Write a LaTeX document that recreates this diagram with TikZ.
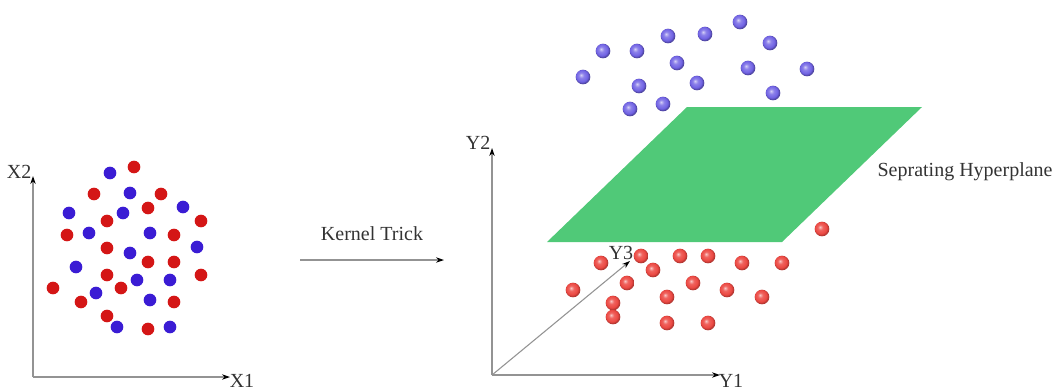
\documentclass[tikz,border=0pt]{standalone}
\usepackage{fontspec}
\setmainfont{Liberation Serif}
\usetikzlibrary{arrows.meta}
\definecolor{dred}{RGB}{212,22,22}
\definecolor{dblue}{RGB}{58,28,212}
\definecolor{bblue}{RGB}{112,98,228}
\definecolor{bred}{RGB}{236,72,66}
\definecolor{plane}{RGB}{80,201,120}
\pgfdeclareradialshading{bbsh}{\pgfqpoint{-7bp}{7bp}}{color(0bp)=(bblue!30!white); color(9bp)=(bblue!80!white); color(20bp)=(bblue); color(25bp)=(bblue!70!black); color(50bp)=(bblue!70!black)}
\pgfdeclareradialshading{rbsh}{\pgfqpoint{-7bp}{7bp}}{color(0bp)=(bred!30!white); color(9bp)=(bred!85!white); color(20bp)=(bred); color(25bp)=(bred!75!black); color(50bp)=(bred!75!black)}
\tikzset{
  axis/.style={draw=gray!85, line width=0.8pt, -{Stealth[black,length=6pt,width=4pt]}},
  flatdot/.style={circle, minimum size=9.5pt, inner sep=0pt},
  reddot/.style={flatdot, fill=dred},
  bluedot/.style={flatdot, fill=dblue},
  ball/.style={circle, minimum size=11pt, inner sep=0pt},
  blueball/.style={ball, shading=bbsh},
  redball/.style={ball, shading=rbsh},
  lbl/.style={font=\fontsize{15}{17}\selectfont, text=black!80, inner sep=1pt},
}
\begin{document}
\begin{tikzpicture}[x=0.75pt, y=-0.75pt]
\useasboundingbox (0,0) rectangle (1056,390);
% left axes
\coordinate (o1) at (33,377);
\coordinate (x2end) at (33,176);
\coordinate (x1end) at (230,377);
\draw[axis] (o1) -- (x2end);
\draw[axis] (o1) -- (x1end);
\node[lbl, anchor=east] (x2lbl) at (33,172) {X2};
\node[lbl] (x1lbl) at (242,381) {X1};
% left dots
\foreach \x/\y [count=\i] in {110/173,130/193,69/213,123/213,183/207,89/233,150/233,197/247,130/253,76/267,137/280,170/280,96/293,150/300,117/327,170/327}
  \node[bluedot] (lb\i) at (\x,\y) {};
\foreach \x/\y [count=\i] in {134/167,94/194,161/194,148/208,107/221,201/221,67/235,174/235,107/248,148/262,174/262,107/275,201/275,53/288,121/288,81/302,174/302,107/316,148/329}
  \node[reddot] (lr\i) at (\x,\y) {};
% kernel trick
\coordinate (ka) at (300,260);
\coordinate (kb) at (444,260);
\draw[axis] (ka) -- (kb);
\node[lbl] (kt) at (372,234) {Kernel Trick};
% plane
\fill[plane] (687,107) coordinate (p1) -- (922,107) coordinate (p2) -- (782,242) coordinate (p3) -- (547,242) coordinate (p4) -- cycle;
\node[lbl, anchor=west] (sh) at (876,172) {Seprating Hyperplane};
% right axes
\coordinate (o2) at (492,375);
\coordinate (y2end) at (492,148);
\coordinate (y1end) at (720,375);
\coordinate (y3end) at (630,261);
\draw[axis] (o2) -- (y2end);
\draw[axis] (o2) -- (y1end);
\draw[axis] (o2) -- (y3end);
\node[lbl, anchor=east] (y2lbl) at (492,143) {Y2};
\node[lbl] (y1lbl) at (731,381) {Y1};
\node[lbl] (y3lbl) at (621,253) {Y3};
% blue balls
\foreach \x/\y [count=\i] in {740/22,668/36,705/34,603/51,637/51,770/43,677/63,748/68,807/69,583/77,639/86,697/83,773/93,663/104,630/109}
  \node[blueball] (rb\i) at (\x,\y) {};
% red balls
\foreach \x/\y [count=\i] in {822/229,601/263,641/256,653/270,680/256,708/256,742/263,782/263,573/290,627/283,693/283,727/290,762/297,667/297,613/303,613/317,667/323,708/323}
  \node[redball] (rr\i) at (\x,\y) {};
\end{tikzpicture}
\end{document}
